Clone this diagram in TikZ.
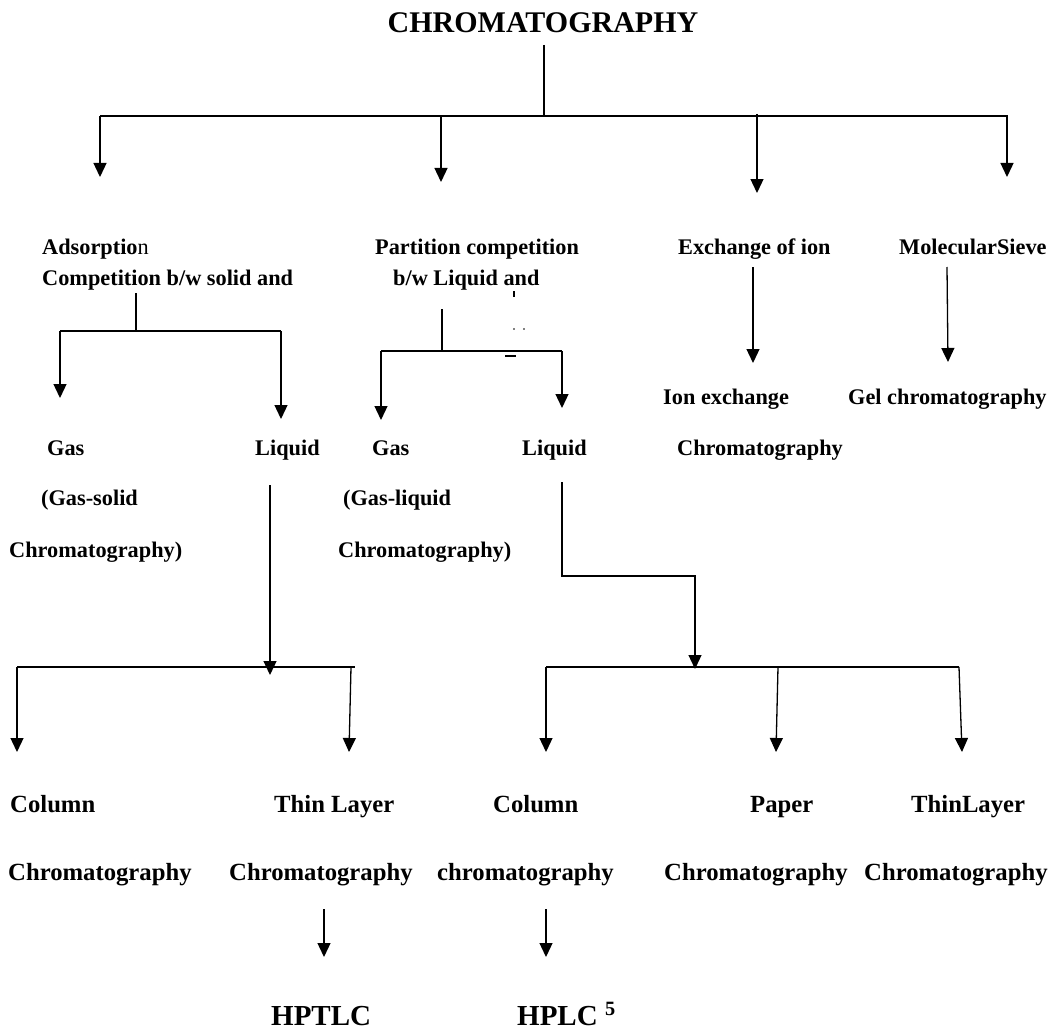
\documentclass[tikz,border=0pt]{standalone}
\usepackage{fontspec}
\setmainfont{Liberation Serif}
\usetikzlibrary{arrows.meta}
\begin{document}
\begin{tikzpicture}[x=1pt, y=-1pt,
	every node/.style={inner sep=0pt, anchor=base west},
	lbl/.style={font=\fontsize{22.3}{26}\selectfont\bfseries},
	lowlbl/.style={font=\fontsize{24.7}{29}\selectfont\bfseries},
	ttl/.style={font=\fontsize{30}{34}\selectfont\bfseries},
	conn/.style={line width=1.3pt},
	bar/.style={line width=2pt},
	arr/.style={line width=1.3pt, -{Triangle[length=14pt, width=13pt]}}]
		\useasboundingbox (0,0) rectangle (1055,1030);
		
		\node[ttl, anchor=base] (chrom) at (543,33) {CHROMATOGRAPHY};
		
		\node[lbl] (ads) at (42,254) {Adsorptio{\mdseries n}};
		\node[lbl] (adscomp) at (42,285) {Competition b/w solid and};
		\node[lbl] (part) at (375,254) {Partition competition};
		\node[lbl] (partcomp) at (393,285) {b/w Liquid and};
		\node[lbl] (exch) at (678,254) {Exchange of ion};
		\node[lbl] (sieve) at (899,254) {MolecularSieve};
		
		\node[lbl] (gas1) at (47,455) {Gas};
		\node[lbl] (liq1) at (255,455) {Liquid};
		\node[lbl] (gs1) at (41,505) {(Gas-solid};
		\node[lbl] (gs2) at (9,557) {Chromatography)};
		\node[lbl] (gas2) at (372,455) {Gas};
		\node[lbl] (liq2) at (522,455) {Liquid};
		\node[lbl] (gl1) at (343,505) {(Gas-liquid};
		\node[lbl] (gl2) at (338,557) {Chromatography)};
		\node[lbl] (ionx) at (663,404) {Ion exchange};
		\node[lbl] (ionc) at (677,455) {Chromatography};
		\node[lbl] (gel) at (848,404) {Gel chromatography};
		
		\node[lowlbl] (col1) at (10,812) {Column};
		\node[lowlbl] (cc1) at (8,880) {Chromatography};
		\node[lowlbl] (thin1) at (274,812) {Thin Layer};
		\node[lowlbl] (tc1) at (229,880) {Chromatography};
		\node[lowlbl] (col2) at (493,812) {Column};
		\node[lowlbl] (cc2) at (437,880) {chromatography};
		\node[lowlbl] (paper) at (750,812) {Paper};
		\node[lowlbl] (pc) at (664,880) {Chromatography};
		\node[lowlbl] (thin2) at (911,812) {ThinLayer};
		\node[lowlbl] (tc2) at (864,880) {Chromatography};
		
		\node[ttl, font=\fontsize{29}{33}\selectfont\bfseries] (hptlc) at (271,1025) {HPTLC};
		\node[ttl, font=\fontsize{29}{33}\selectfont\bfseries] (hplc) at (517,1025) {HPLC \textsuperscript{5}};
		
		\coordinate (c0) at (544,45);
		\coordinate (c1) at (544,116);
		\coordinate (b0) at (100,116);
		\coordinate (b1) at (1008,116);
		\coordinate (t1) at (100,177);
		\coordinate (s2) at (441,116);
		\coordinate (t2) at (441,182);
		\coordinate (s3) at (757,114);
		\coordinate (t3) at (757,193);
		\coordinate (s4) at (1007,116);
		\coordinate (t4) at (1007,177);
		
		\draw[conn] (c0) -- (c1);
		\draw[bar] (b0) -- (b1);
		\draw[arr] (b0) -- (t1);
		\draw[arr] (s2) -- (t2);
		\draw[arr] (s3) -- (t3);
		\draw[arr] (s4) -- (t4);
		
		\coordinate (aj0) at (136,293);
		\coordinate (aj1) at (136,331);
		\coordinate (ab0) at (60,331);
		\coordinate (ab1) at (281,331);
		\coordinate (ag) at (60,398);
		\coordinate (al) at (281,419);
		\draw[conn] (aj0) -- (aj1);
		\draw[bar] (ab0) -- (ab1);
		\draw[arr] (ab0) -- (ag);
		\draw[arr] (ab1) -- (al);
		
		\coordinate (pj0) at (442,309);
		\coordinate (pj1) at (442,351);
		\coordinate (pb0) at (381,351);
		\coordinate (pb1) at (562,351);
		\coordinate (pg) at (381,420);
		\coordinate (pl) at (562,408);
		\draw[conn] (pj0) -- (pj1);
		\draw[bar] (pb0) -- (pb1);
		\draw[arr] (pb0) -- (pg);
		\draw[arr] (pb1) -- (pl);
		\fill (513.3,291) rectangle (514.8,297);
		\fill (514,329) circle (0.9);
		\fill (524,329) circle (0.9);
		\draw[line width=1.6pt] (505,356) -- (516,356);
		
		\coordinate (ej0) at (753,267);
		\coordinate (ej1) at (753,363);
		\coordinate (mj0) at (947,267);
		\coordinate (mj1) at (948,362);
		\draw[arr] (ej0) -- (ej1);
		\draw[arr] (mj0) -- (mj1);
		
		\coordinate (lq0) at (270,485);
		\coordinate (lq1) at (270,675);
		\coordinate (lb0) at (17,667);
		\coordinate (lb1) at (355,667);
		\coordinate (lc) at (17,752);
		\coordinate (lt0) at (351,667);
		\coordinate (lt) at (349,752);
		\draw[arr] (lq0) -- (lq1);
		\draw[bar] (lb0) -- (lb1);
		\draw[arr] (lb0) -- (lc);
		\draw[arr] (lt0) -- (lt);
		
		\coordinate (rq0) at (562,482);
		\coordinate (rq1) at (562,576);
		\coordinate (rq2) at (695,576);
		\coordinate (rq3) at (695,669);
		\coordinate (rb0) at (546,667);
		\coordinate (rb1) at (959,667);
		\coordinate (rc) at (546,752);
		\coordinate (rp0) at (778,667);
		\coordinate (rp) at (776,752);
		\coordinate (rt) at (962,752);
		\draw[arr] (rq0) -- (rq1) -- (rq2) -- (rq3);
		\draw[bar] (rb0) -- (rb1);
		\draw[arr] (rb0) -- (rc);
		\draw[arr] (rp0) -- (rp);
		\draw[arr] (rb1) -- (rt);
		
		\coordinate (h0) at (324,909);
		\coordinate (h1) at (324,957);
		\coordinate (k0) at (546,909);
		\coordinate (k1) at (546,957);
		\draw[arr] (h0) -- (h1);
		\draw[arr] (k0) -- (k1);
		\end{tikzpicture}
\end{document}
